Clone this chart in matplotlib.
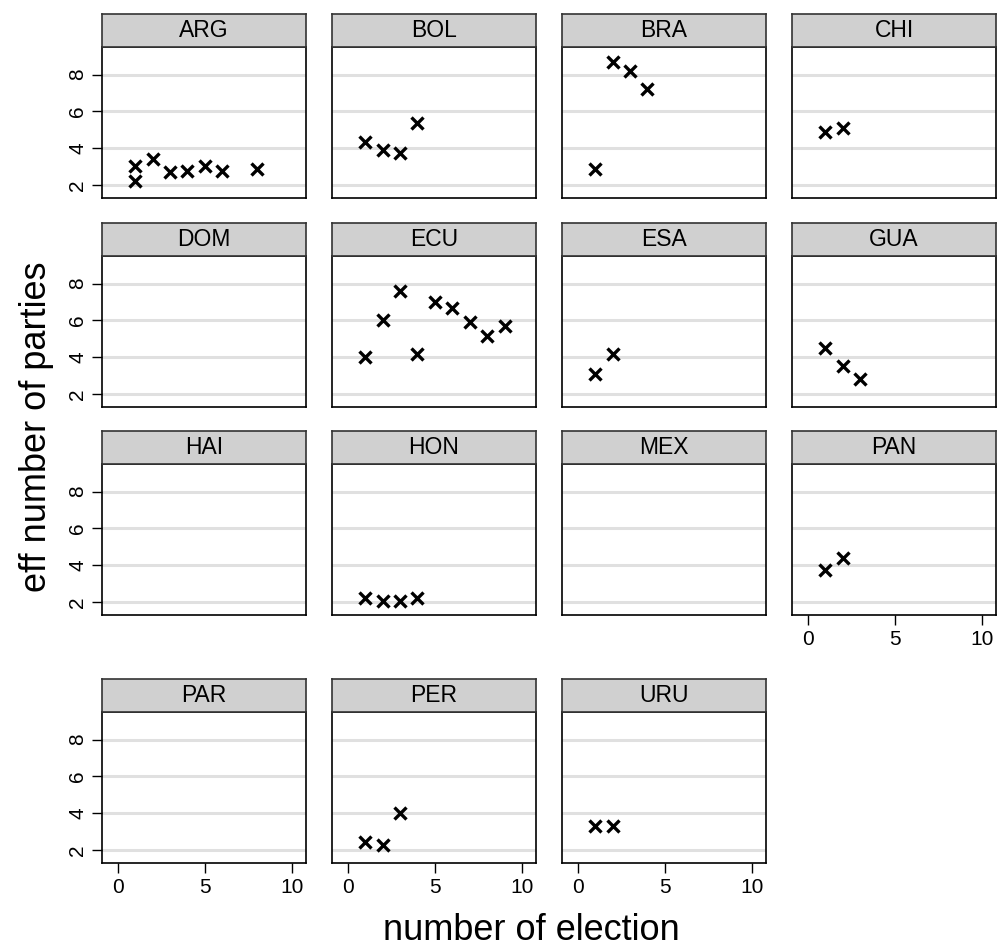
import numpy as np
import matplotlib
matplotlib.use("Agg")
import matplotlib.pyplot as plt

plt.rcParams['font.family'] = ['Liberation Sans', 'DejaVu Sans']

# country panels, in display order
countries = ["ARG", "BOL", "BRA", "CHI",
             "DOM", "ECU", "ESA", "GUA",
             "HAI", "HON", "MEX", "PAN",
             "PAR", "PER", "URU"]

# number of election -> effective number of parties
elec = {
    "ARG": [1, 1, 2, 3, 4, 5, 6, 8],
    "BOL": [1, 2, 3, 4],
    "BRA": [1, 2, 3, 4],
    "CHI": [1, 2],
    "DOM": [],
    "ECU": [1, 2, 3, 4, 5, 6, 7, 8, 9],
    "ESA": [1, 2],
    "GUA": [1, 2, 3],
    "HAI": [],
    "HON": [1, 2, 3, 4],
    "MEX": [],
    "PAN": [1, 2],
    "PAR": [],
    "PER": [1, 2, 3],
    "URU": [1, 2],
}
enp = {
    "ARG": [3.05, 2.2, 3.4, 2.7, 2.75, 3.05, 2.75, 2.9],
    "BOL": [4.35, 3.9, 3.75, 5.4],
    "BRA": [2.9, 8.7, 8.2, 7.2],
    "CHI": [4.9, 5.1],
    "DOM": [],
    "ECU": [4.0, 6.0, 7.6, 4.2, 7.0, 6.65, 5.9, 5.15, 5.7],
    "ESA": [3.1, 4.2],
    "GUA": [4.5, 3.55, 2.8],
    "HAI": [],
    "HON": [2.2, 2.05, 2.05, 2.2],
    "MEX": [],
    "PAN": [3.75, 4.4],
    "PAR": [],
    "PER": [2.45, 2.3, 4.0],
    "URU": [3.3, 3.3],
}
xticks = [0, 5, 10]
yticks = [2, 4, 6, 8]
with_xlabels = {"PAN", "PAR", "PER", "URU"}

W, H = 997, 949
fig = plt.figure(figsize=(W / 100, H / 100), dpi=100)

col_left = [102, 332, 562, 792]
row_bottom = [198, 407, 615, 863]   # pixel y of plot bottom, from top
pw, ph, hh = 204, 151, 33

for i, c in enumerate(countries):
    r, k = divmod(i, 4)
    x0 = col_left[k]
    yb = row_bottom[r]
    ax = fig.add_axes([x0 / W, 1 - yb / H, pw / W, ph / H])
    hax = fig.add_axes([x0 / W, 1 - (yb - ph) / H, pw / W, hh / H])
    hax.set_facecolor('#d0d0d0')
    hax.set_xticks([])
    hax.set_yticks([])
    for s in hax.spines.values():
        s.set_color('#333333')
        s.set_linewidth(1.2)
    hax.text(0.5, 0.5, c, ha='center', va='center', fontsize=16.5,
             transform=hax.transAxes)

    ax.set_xlim(-0.9, 10.8)
    ax.set_ylim(1.3, 9.5)
    for yv in yticks:
        ax.axhline(yv, color='#e0e0e0', lw=2.2, zorder=0)
    ax.plot(elec[c], enp[c], ls='none', marker='x', ms=8.5, mew=2.4,
            color='black', zorder=3)
    for s in ax.spines.values():
        s.set_color('black')
        s.set_linewidth(1.2)

    ax.set_xticks(xticks)
    ax.set_yticks(yticks)
    ax.tick_params(axis='both', length=7, width=1, labelsize=15, color='black')
    if c not in with_xlabels:
        ax.tick_params(axis='x', length=0, labelbottom=False)
    if k != 0:
        ax.tick_params(axis='y', length=0, labelleft=False)
    else:
        for t in ax.get_yticklabels():
            t.set_rotation(90)
            t.set_va('center')

fig.text(531 / W, 1 - 930 / H, "number of election", ha='center', va='center',
         fontsize=26)
fig.text(36 / W, 1 - 427 / H, "eff number of parties", ha='center', va='center',
         fontsize=26, rotation=90)

fig.savefig("out.png", dpi=100)
